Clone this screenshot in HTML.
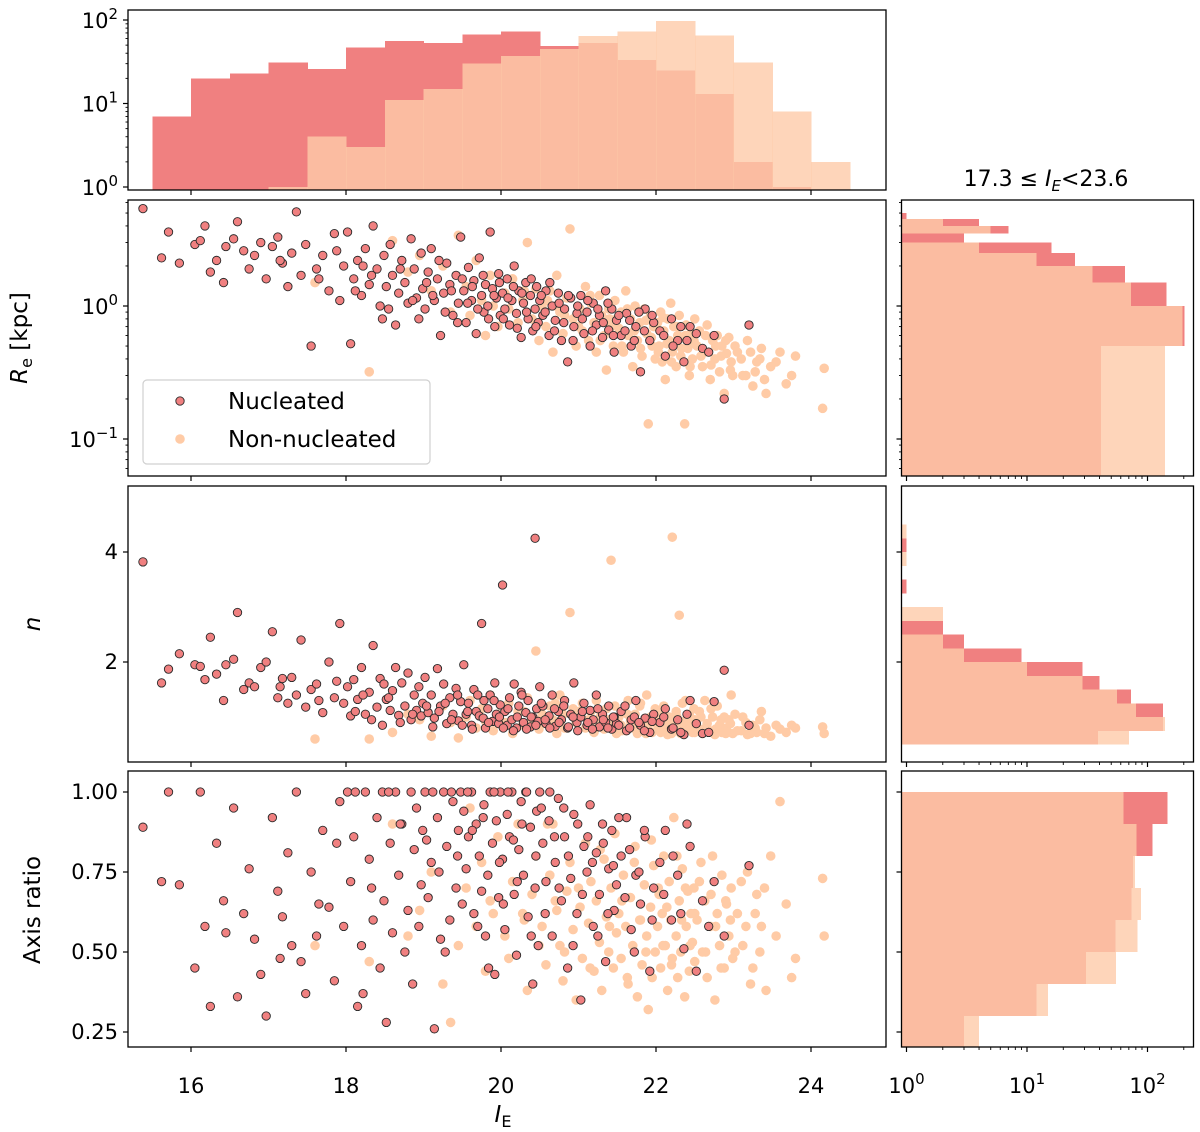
<!DOCTYPE html>
<html><head><meta charset="utf-8">
<style>
html,body{margin:0;padding:0;background:#fff;}
svg{display:block;font-family:"DejaVu Sans","Liberation Sans",sans-serif;}
</style></head>
<body>
<svg id="chart" width="1200" height="1132" viewBox="0 0 1200 1132" xmlns="http://www.w3.org/2000/svg">
<defs>
<clipPath id="cTop"><rect x="128" y="10" width="758" height="180"/></clipPath>
<clipPath id="cRe"><rect x="128" y="200" width="758" height="276"/></clipPath>
<clipPath id="cN"><rect x="128" y="486" width="758" height="276"/></clipPath>
<clipPath id="cQ"><rect x="128" y="771" width="758" height="276"/></clipPath>
<clipPath id="cRRe"><rect x="901.5" y="200" width="292" height="276"/></clipPath>
<clipPath id="cRN"><rect x="901.5" y="486" width="292" height="276"/></clipPath>
<clipPath id="cRQ"><rect x="901.5" y="771" width="292" height="276"/></clipPath>
</defs>
</svg>
<script>
// ---- histogram data ----
const ieEdges=[15.5,16,16.5,17,17.5,18,18.5,19,19.5,20,20.5,21,21.5,22,22.5,23,23.5,24,24.5];
const nucIEcounts=[7,20,23,31,26,47,56,53,67,73,49,53,33,25,13,2,1,0];
const nonIEcounts=[0,0,0,1,4,3,11,15,30,37,45,64,73,97,65,31,8,2];
const reEdges=[0,0.5,1,1.5,2,2.5,3,3.5,4,4.5,5];
const nucReCounts=[41,203,144,65,25,16,3,7,4,1];
const nonReCounts=[140,196,73,35,12,4,0,5,2,0];
const nEdges=[0.5,0.75,1,1.25,1.5,1.75,2,2.25,2.5,2.75,3,3.25,3.5,3.75,4,4.25,4.5];
const nucNCounts=[39,134,134,73,40,29,9,3,2,0,0,1,0,0,1,0];
const nonNCounts=[70,140,80,56,29,10,3,2,0,2,0,0,0,1,0,1];
const qEdges=[0.2,0.3,0.4,0.5,0.6,0.7,0.8,0.9,1.0];
const nucQCounts=[3,12,31,54,74,76,110,146];
const nonQCounts=[4,15,55,83,88,79,81,63];
// ---- scatter data: [I_E, Re, n, axis ratio] ----
const nucleated=[
[15.38,5.4,3.82,0.89],[15.62,2.3,1.62,0.72],[15.71,3.6,1.87,1.0],[15.85,2.1,2.15,0.71],
[16.05,2.9,1.95,0.45],[16.12,3.1,1.92,1.0],[16.18,4.0,1.68,0.58],[16.25,1.8,2.45,0.33],[16.33,2.2,1.78,0.84],[16.42,1.5,1.3,0.66],
[16.55,3.2,2.05,0.95],[16.6,4.3,2.9,0.36],[16.68,2.6,1.5,0.62],[16.75,1.9,1.62,0.76],[16.82,2.4,1.55,0.54],[16.9,3.0,1.9,0.43],[16.97,1.6,2.0,0.3],
[17.05,2.8,2.55,0.92],[17.12,3.3,1.35,0.69],[17.18,2.1,1.7,0.61],[17.25,1.4,1.25,0.81],[17.3,2.5,1.72,0.52],[17.36,5.1,1.4,1.0],[17.42,1.7,2.4,0.47],[17.48,2.9,1.18,0.37],
[17.55,0.5,1.5,0.75],[17.62,1.9,1.6,0.55],[17.7,2.4,1.08,0.88],[17.78,1.3,2.0,0.64],[17.85,3.5,1.35,0.41],[17.92,1.1,2.7,0.97],[17.97,2.0,1.25,0.58],
[18.02,3.6,1.55,1.0],[18.06,0.52,1.02,0.72],[18.1,1.6,1.68,0.86],[18.15,2.2,1.32,0.33],[18.2,1.2,1.9,0.52],[18.25,2.7,1.05,1.0],[18.3,1.45,1.45,0.79],[18.35,4.0,2.3,0.6],[18.4,1.9,1.18,0.92],[18.44,1.0,1.7,0.45],[18.47,0.8,0.85,1.0],[18.49,2.4,1.6,0.66],
[18.52,1.4,1.32,0.28],[18.57,2.9,1.12,0.84],[18.6,1.7,1.48,0.56],[18.64,0.72,1.9,1.0],[18.68,1.25,1.03,0.74],[18.72,2.2,1.62,0.9],[18.76,1.5,1.2,0.5],[18.8,1.05,1.8,0.63],[18.84,3.2,0.95,1.0],[18.88,1.9,1.4,0.82],[18.91,1.15,1.12,0.95],[18.94,0.8,1.55,0.58],[18.97,2.5,1.02,0.71],[18.99,1.35,1.25,0.88],
[19.02,0.95,1.72,1.0],[19.06,1.8,1.08,0.67],[19.1,2.7,1.4,0.78],[19.14,1.1,0.98,0.26],[19.18,1.6,1.88,0.92],[19.22,0.6,1.2,0.54],[19.26,1.25,1.6,1.0],[19.3,2.1,0.88,0.83],[19.34,1.45,1.35,0.6],[19.38,0.85,1.05,0.97],[19.42,1.7,1.52,0.7],[19.45,1.05,0.93,0.88],[19.48,3.3,1.28,1.0],
[19.52,1.3,1.95,0.94],[19.55,0.75,1.05,0.76],[19.58,1.95,1.25,0.86],[19.62,1.1,0.85,1.0],[19.65,1.55,1.5,0.62],[19.68,0.62,1.1,0.9],[19.72,2.3,1.02,0.8],[19.75,1.2,2.7,0.69],[19.78,0.9,1.3,0.96],[19.8,1.45,0.8,0.55],[19.83,1.0,1.15,0.74],[19.86,3.6,1.4,1.0],[19.89,1.35,0.92,0.84],[19.92,0.7,1.62,0.43],[19.94,1.15,1.05,0.91],[19.97,1.75,0.88,0.67],[19.99,0.85,1.22,1.0],
[20.02,1.25,3.4,0.79],[20.05,0.95,1.1,0.57],[20.08,1.6,0.85,0.93],[20.11,0.72,1.35,0.86],[20.14,1.1,0.95,1.0],[20.17,2.0,1.6,0.68],[20.2,0.88,0.8,0.49],[20.23,1.3,1.2,0.82],[20.26,0.58,1.45,0.97],[20.29,1.05,0.9,0.74],[20.32,1.5,1.08,1.0],[20.35,0.8,1.3,0.61],[20.38,1.2,0.82,0.89],[20.41,0.65,1.0,0.4],[20.44,0.95,4.25,0.7],[20.46,1.4,1.15,0.94],[20.48,0.75,0.92,0.52],[20.5,1.1,1.55,1.0],
[20.54,0.85,1.2,0.84],[20.58,1.3,0.88,0.72],[20.62,0.6,1.02,0.91],[20.66,1.0,1.4,0.55],[20.7,0.78,0.83,0.78],[20.74,1.25,1.1,0.98],[20.78,0.55,0.95,0.66],[20.82,0.95,1.3,0.86],[20.86,0.38,0.8,0.45],[20.9,1.15,1.05,0.73],[20.94,0.7,1.62,0.93],[20.98,0.88,0.9,0.62],
[21.03,1.2,1.0,0.35],[21.07,0.62,1.25,0.83],[21.11,0.9,0.85,0.75],[21.15,0.5,1.12,0.96],[21.19,1.05,0.95,0.58],[21.23,0.72,1.4,0.81],[21.27,0.85,0.82,0.68],[21.31,0.58,1.05,0.9],[21.35,1.3,0.9,0.47],[21.39,0.66,1.2,0.76],[21.43,0.95,0.78,0.88],[21.46,0.45,1.0,0.63],[21.49,0.78,0.88,0.71],
[21.55,0.6,1.1,0.8],[21.62,0.88,0.75,0.92],[21.68,0.5,0.95,0.57],[21.74,0.7,1.3,0.74],[21.8,0.32,0.85,0.65],[21.86,0.95,0.98,0.86],[21.92,0.55,0.72,0.44],[21.97,0.75,1.05,0.7],
[22.05,0.65,0.9,0.78],[22.12,0.42,1.15,0.88],[22.2,0.8,0.78,0.6],[22.28,0.55,0.95,0.74],[22.36,0.38,0.68,0.51],[22.44,0.7,1.3,0.83],
[22.6,0.48,0.7,0.66],[22.75,0.6,1.28,0.72],[22.88,0.2,1.85,0.55],[23.2,0.72,0.85,0.77],
[18.12,1.3,1.1,1.0],[18.33,1.7,0.95,0.7],[18.55,0.95,1.35,1.0],[18.7,1.9,0.9,0.9],[18.86,1.1,1.05,0.4],[19.04,1.5,1.2,0.85],[19.12,1.2,0.82,1.0],[19.2,2.2,1.1,0.75],[19.28,0.9,1.25,0.5],[19.36,1.3,0.95,1.0],[19.44,0.75,1.4,0.8],[19.5,1.6,0.85,0.65],[19.57,1.05,1.1,1.0],[19.63,1.4,0.78,0.88],[19.7,0.95,1.4,0.58],[19.77,1.7,0.98,0.92],[19.84,0.8,0.9,0.45],[19.91,1.2,1.3,1.0],[19.98,1.5,1.0,0.78],
[20.03,0.8,0.8,0.65],[20.09,1.15,1.15,1.0],[20.16,1.4,0.75,0.85],[20.21,0.68,1.0,0.72],[20.27,1.25,1.4,0.9],[20.33,0.9,0.78,1.0],[20.39,1.6,1.0,0.55],[20.45,0.7,0.85,0.8],[20.52,1.2,1.25,0.95],[20.57,0.9,0.95,0.62],[20.63,1.5,0.8,1.0],[20.69,0.65,1.15,0.86],[20.75,1.05,0.9,0.7],[20.81,0.75,1.2,0.95],[20.87,1.2,0.82,0.8],[20.93,0.55,1.0,0.52],[20.99,1.0,0.75,0.9],
[21.05,0.8,1.1,0.68],[21.12,1.1,0.9,0.86],[21.18,0.65,0.78,0.78],[21.25,0.95,1.15,0.55],[21.32,0.75,0.95,0.84],[21.38,1.05,0.8,0.62],[21.45,0.6,1.0,0.77],[21.52,0.85,0.85,0.92],[21.6,0.65,1.2,0.67],[21.66,0.78,0.8,0.82],[21.72,0.55,1.0,0.5],[21.78,0.9,0.9,0.75],[21.85,0.65,0.75,0.88],[21.95,0.85,0.92,0.6],
[22.1,0.6,1.0,0.68],[22.22,0.5,0.8,0.8],[22.32,0.7,0.72,0.62],[22.4,0.55,1.05,0.9],[22.52,0.62,0.88,0.44],[22.68,0.45,0.72,0.58],[16.45,2.8,1.95,0.56],[17.15,2.2,1.55,0.48],[17.65,1.6,1.3,0.65],[17.88,2.6,1.65,0.84],[18.22,2.0,1.4,0.37]
];
const nonNucleated=[
[17.6,1.5,0.6,0.52],[18.3,0.32,0.6,0.47],
[18.6,3.1,0.72,0.9],[18.8,1.8,1.05,0.55],[18.95,2.4,0.95,0.63],
[19.1,1.3,0.65,0.75],[19.25,2.0,1.2,0.4],[19.35,0.9,0.9,0.28],[19.45,3.4,0.62,0.52],
[19.55,1.4,1.0,0.7],[19.6,0.85,1.3,0.95],[19.68,2.2,0.8,0.58],[19.75,1.1,1.15,0.78],[19.8,0.6,0.92,0.44],[19.86,1.7,1.4,0.66],[19.9,1.0,0.75,0.62],[19.96,0.7,1.05,0.86],
[20.05,1.25,0.9,0.55],[20.1,0.95,1.25,0.48],[20.15,1.6,0.7,0.72],[20.22,0.75,1.1,0.9],[20.28,1.1,0.85,0.62],[20.34,3.0,1.35,0.38],[20.4,0.8,0.95,0.68],[20.45,1.35,2.2,0.8],[20.49,0.55,0.78,0.52],
[20.53,1.0,1.05,0.58],[20.58,0.7,0.88,0.46],[20.63,1.3,1.2,0.74],[20.67,0.45,0.95,0.9],[20.72,1.7,0.7,0.63],[20.76,0.9,1.4,0.52],[20.8,0.62,1.05,0.41],[20.85,1.15,0.8,0.69],[20.89,3.8,2.9,0.78],[20.93,0.8,1.15,0.57],[20.97,0.5,0.9,0.35],
[21.02,0.95,1.0,0.64],[21.05,0.65,1.25,0.48],[21.09,1.4,0.8,0.84],[21.13,0.55,0.95,0.59],[21.16,1.05,1.1,0.72],[21.2,0.75,0.72,0.44],[21.23,0.45,1.3,0.66],[21.27,1.2,0.9,0.53],[21.3,0.85,1.05,0.38],[21.33,0.6,0.78,0.79],[21.36,0.33,1.15,0.61],[21.39,0.95,0.95,0.5],[21.42,0.7,3.85,0.7],[21.45,0.5,0.85,0.45],[21.47,1.1,1.2,0.87],[21.49,0.8,0.7,0.56],
[21.52,0.68,1.0,0.62],[21.55,0.9,0.85,0.48],[21.58,0.45,1.1,0.74],[21.61,1.3,0.75,0.58],[21.64,0.6,1.3,0.4],[21.67,0.8,0.92,0.67],[21.7,0.35,0.8,0.52],[21.73,1.0,1.05,0.83],[21.76,0.55,0.7,0.36],[21.79,0.75,1.2,0.6],[21.82,0.42,0.9,0.46],[21.85,0.95,0.78,0.71],[21.88,0.62,1.4,0.55],[21.9,0.13,0.85,0.32],[21.93,0.85,1.0,0.64],[21.95,0.5,0.72,0.42],[21.97,0.7,0.95,0.77],[21.99,0.4,1.15,0.5],
[22.02,0.75,0.85,0.58],[22.04,0.5,1.05,0.68],[22.06,0.9,0.72,0.45],[22.08,0.38,0.95,0.62],[22.1,0.65,1.2,0.8],[22.12,0.28,0.8,0.52],[22.15,0.8,0.68,0.38],[22.17,0.55,1.0,0.72],[22.19,1.05,0.88,0.6],[22.21,0.45,4.27,0.48],[22.23,0.7,0.75,0.92],[22.26,0.35,1.1,0.55],[22.28,0.6,0.9,0.42],[22.3,0.85,2.85,0.66],[22.32,0.42,0.7,0.5],[22.34,0.58,1.25,0.76],[22.37,0.13,0.85,0.36],[22.39,0.72,0.95,0.58],[22.41,0.48,0.78,0.69],[22.43,0.3,1.05,0.44],[22.45,0.62,0.88,0.62],[22.47,0.4,0.72,0.53],[22.49,0.55,1.15,0.7],[22.5,0.8,0.95,0.47],
[22.53,0.5,0.82,0.6],[22.56,0.65,1.1,0.72],[22.6,0.35,0.7,0.5],[22.63,0.45,1.3,0.66],[22.66,0.72,0.88,0.42],[22.7,0.28,0.75,0.58],[22.73,0.55,1.0,0.8],[22.76,0.4,0.68,0.35],[22.79,0.6,1.2,0.62],[22.82,0.32,0.85,0.52],[22.85,0.5,0.72,0.74],[22.88,0.22,1.0,0.45],[22.91,0.44,0.8,0.65],[22.94,0.58,0.95,0.55],[22.97,0.38,1.4,0.7],[22.99,0.3,0.7,0.48],
[23.05,0.45,0.75,0.62],[23.12,0.3,1.0,0.52],[23.18,0.55,0.68,0.75],[23.25,0.25,0.85,0.45],[23.3,0.38,0.72,0.68],[23.36,0.48,1.1,0.58],[23.42,0.22,0.8,0.38],[23.48,0.35,0.65,0.8],
[23.6,0.45,0.78,0.97],[23.75,0.3,0.85,0.42],[24.15,0.17,0.82,0.73],[24.17,0.34,0.7,0.55],
[20.6,1.1,0.95,0.9],[20.82,0.85,0.8,0.5],[21.0,0.7,1.1,0.7],[21.15,1.2,0.85,0.45],[21.28,0.55,1.0,0.82],[21.4,0.8,0.9,0.58],[21.56,0.5,0.75,0.66],[21.63,0.95,1.05,0.42],[21.72,0.65,0.85,0.78],[21.8,0.48,1.25,0.6],[21.87,0.78,0.7,0.5],[21.94,0.58,1.0,0.85],[22.03,0.45,0.8,0.7],[22.09,0.82,1.1,0.52],[22.14,0.52,0.9,0.64],[22.2,0.38,0.7,0.46],[22.27,0.7,1.0,0.8],[22.33,0.48,0.82,0.6],[22.38,0.6,1.3,0.7],[22.44,0.35,0.9,0.52],[22.5,0.52,0.72,0.62],[22.58,0.42,1.0,0.78],[22.64,0.6,0.8,0.5],[22.71,0.36,1.15,0.68],[22.77,0.5,0.78,0.58],[22.84,0.42,0.95,0.45],[22.9,0.55,0.7,0.66],[22.96,0.33,0.88,0.6],[23.02,0.5,1.05,0.5],[23.1,0.4,0.75,0.72],[23.16,0.3,0.9,0.58],[23.22,0.45,0.7,0.4],[23.28,0.32,0.8,0.62],[23.34,0.4,0.95,0.5],[23.4,0.28,0.7,0.7],[23.55,0.38,0.85,0.55],[23.68,0.26,0.72,0.65],[23.8,0.42,0.8,0.48],[20.3,1.3,1.1,0.6],[20.7,1.0,1.25,0.66]
];
const xTickLabels=["16","18","20","22","24"];
const qTickLabels=["0.25","0.50","0.75","1.00"];
const nTickLabels=["2","4"];

const NS="http://www.w3.org/2000/svg";
const svg=document.getElementById('chart');
function mk(tag,attrs,parent){const e=document.createElementNS(NS,tag);for(const k in attrs)e.setAttribute(k,attrs[k]);(parent||svg).appendChild(e);return e;}
function grp(clip){const g=document.createElementNS(NS,'g');if(clip)g.setAttribute('clip-path','url(#'+clip+')');svg.appendChild(g);return g;}

// scales
const xIE=v=>191+(v-16)*77.5;
const yTop=c=>187-Math.log10(c)*83.5;
const yRe=v=>306-Math.log10(v)*133;
const yN=v=>772-v*55;
const yQ=v=>792+(1-v)*320;
const xCnt=c=>906.5+Math.log10(c)*120.5;

const RED="#f08080", PEACH="rgb(254,202,169)", DOT_PEACH="#ffcba6";

// top histogram
const gTop=grp('cTop');


[[nucIEcounts,RED,1,'nucleated'],[nonIEcounts,PEACH,0.8,'non-nucleated']].forEach(([arr,col,op,nm])=>{
  arr.forEach((c,i)=>{ if(c<=0) return;
    const x0=xIE(ieEdges[i]),x1=xIE(ieEdges[i+1]);
    const r=mk('rect',{x:x0,y:yTop(c),width:x1-x0+0.5,height:Math.max(0,192-yTop(c)),fill:col,'fill-opacity':op,'shape-rendering':'crispEdges'},gTop);
    
    
  });
});

// right histograms
function hHist(clip,edges,arr,yf,col,op,nm,lowClamp){
  const g=grp(clip);
  arr.forEach((c,i)=>{ if(c<=0) return;
    const lo=Math.max(edges[i],lowClamp), hi=edges[i+1];
    const y0=yf(hi), y1=yf(lo);
    const r=mk('rect',{x:895,y:y0,width:xCnt(c)-895,height:y1-y0,fill:col,'fill-opacity':op,'shape-rendering':'crispEdges'},g);
    
    
  });
}
hHist('cRRe',reEdges,nucReCounts,yRe,RED,1,'re-hist-bar-nucleated',0.01);
hHist('cRRe',reEdges,nonReCounts,yRe,PEACH,0.8,'re-hist-bar-non-nucleated',0.01);
hHist('cRN',nEdges,nucNCounts,yN,RED,1,'n-hist-bar-nucleated',-1);
hHist('cRN',nEdges,nonNCounts,yN,PEACH,0.8,'n-hist-bar-non-nucleated',-1);
hHist('cRQ',qEdges,nucQCounts,yQ,RED,1,'q-hist-bar-nucleated',-1);
hHist('cRQ',qEdges,nonQCounts,yQ,PEACH,0.8,'q-hist-bar-non-nucleated',-1);

// scatter panels
[['cRe',1,yRe,'re'],['cN',2,yN,'n'],['cQ',3,yQ,'q']].forEach(([clip,idx,yf,nm])=>{
  const g=grp(clip);
  nonNucleated.forEach(p=>{
    const c=mk('circle',{cx:xIE(p[0]),cy:yf(p[idx]),r:4.8,fill:DOT_PEACH},g);
    
    
  });
  nucleated.forEach(p=>{
    const c=mk('circle',{cx:xIE(p[0]),cy:yf(p[idx]),r:4.2,fill:RED,stroke:'#2a2a2a','stroke-width':0.9},g);
    
    
  });
});

// frames
const frames=[[128,10,758,180,'ie-hist-frame'],[128,200,758,276,'re-panel-frame'],[128,486,758,276,'n-panel-frame'],[128,771,758,276,'q-panel-frame'],
[901.5,200,292,276,'re-hist-frame'],[901.5,486,292,276,'n-hist-frame'],[901.5,771,292,276,'q-hist-frame']];
frames.forEach(f=>{const r=mk('rect',{x:f[0],y:f[1],width:f[2],height:f[3],fill:'none',stroke:'#000','stroke-width':1.3});
});

function tick(x1,y1,x2,y2,w){const l=mk('line',{x1:x1,y1:y1,x2:x2,y2:y2,stroke:'#000','stroke-width':w||1.2});}
function txt(x,y,s,anchor,size,nm,extra){const t=mk('text',Object.assign({x:x,y:y,'text-anchor':anchor||'middle','font-size':size||21,fill:'#000'},extra||{}));t.textContent=s;return t;}
function pow(x,y,exp,anchor,nm){const t=mk('text',{x:x,y:y,'text-anchor':anchor,'font-size':21,fill:'#000'});
 t.appendChild(document.createTextNode('10'));const s=document.createElementNS(NS,'tspan');s.setAttribute('dy','-9');s.setAttribute('font-size','15');s.textContent=exp;t.appendChild(s);return t;}

// x ticks on left panels
[190,476,762,1047].forEach(yb=>{
  xTickLabels.forEach(l=>{const x=xIE(+l);tick(x,yb,x,yb+5);});
});
xTickLabels.forEach(l=>txt(xIE(+l),1093,l,'middle',21,'x-tick-label'));
// top hist y ticks (log)
[0,1,2].forEach(e=>{const y=yTop(Math.pow(10,e));tick(123,y,128,y);pow(118,y+8,String(e),'end','top-y-tick-label');
 if(e<2)for(let m=2;m<10;m++){const yy=yTop(m*Math.pow(10,e));if(yy>=10)tick(125.5,yy,128,yy,0.9);}});
// Re y ticks
[0,-1].forEach(e=>{const y=yRe(Math.pow(10,e));tick(123,y,128,y);tick(896.5,y,901.5,y);pow(118,y+8,e===0?'0':'−1','end','re-y-tick-label');});
[-2,-1,0].forEach(e=>{for(let m=2;m<10;m++){const yy=yRe(m*Math.pow(10,e));if(yy>=200&&yy<=476){tick(125.5,yy,128,yy,0.9);tick(899,yy,901.5,yy,0.9);}}});
// n y ticks
nTickLabels.forEach(l=>{const y=yN(+l);tick(123,y,128,y);tick(896.5,y,901.5,y);txt(118,y+7,l,'end',21,'n-y-tick-label');});
// q y ticks
qTickLabels.forEach(l=>{const y=yQ(+l);tick(123,y,128,y);tick(896.5,y,901.5,y);txt(118,y+7,l,'end',21,'q-y-tick-label');});
// right x ticks (log counts)
[476,762,1047].forEach(yb=>{
  [0,1,2].forEach(e=>{const x=xCnt(Math.pow(10,e));tick(x,yb,x,yb+5);
    for(let m=2;m<10;m++){const xx=xCnt(m*Math.pow(10,e));if(xx<1193)tick(xx,yb,xx,yb+3,0.9);}});
});
[0,1,2].forEach(e=>pow(xCnt(Math.pow(10,e)),1093,String(e),'middle','count-x-tick-label'));

// axis labels
(function(){const t=mk('text',{x:0,y:0,'text-anchor':'middle','font-size':23,transform:'translate(27,338) rotate(-90)'});

const a=document.createElementNS(NS,'tspan');a.setAttribute('font-style','italic');a.textContent='R';t.appendChild(a);
const b=document.createElementNS(NS,'tspan');b.setAttribute('font-size','16');b.setAttribute('dy','5');b.textContent='e';t.appendChild(b);
const c=document.createElementNS(NS,'tspan');c.setAttribute('dy','-5');c.textContent=' [kpc]';t.appendChild(c);})();
txt(0,0,'n','middle',23,'n-axis-title',{transform:'translate(40,624) rotate(-90)','font-style':'italic'});
txt(0,0,'Axis ratio','middle',23,'q-axis-title',{transform:'translate(40,910) rotate(-90)'});
(function(){const t=mk('text',{x:503,y:1122,'text-anchor':'middle','font-size':23});
const a=document.createElementNS(NS,'tspan');a.setAttribute('font-style','italic');a.textContent='I';t.appendChild(a);
const b=document.createElementNS(NS,'tspan');b.setAttribute('font-size','16');b.setAttribute('dy','5');b.textContent='E';t.appendChild(b);})();
(function(){const t=mk('text',{x:1046,y:186,'text-anchor':'middle','font-size':22});
t.appendChild(document.createTextNode('17.3 ≤ '));
const a=document.createElementNS(NS,'tspan');a.setAttribute('font-style','italic');a.textContent='I';t.appendChild(a);
const b=document.createElementNS(NS,'tspan');b.setAttribute('font-style','italic');b.setAttribute('font-size','15');b.setAttribute('dy','5');b.textContent='E';t.appendChild(b);
const c=document.createElementNS(NS,'tspan');c.setAttribute('dy','-5');c.textContent='<23.6';t.appendChild(c);})();

// legend
const lg=grp(null);


const box=mk('rect',{x:143,y:380,width:287,height:84,rx:4,fill:'#fff','fill-opacity':0.85,stroke:'#d0d0d0','stroke-width':1.2},lg);

const m1=mk('circle',{cx:180,cy:401,r:4.2,fill:RED,stroke:'#2a2a2a','stroke-width':0.9},lg);

const m2=mk('circle',{cx:180,cy:439,r:4.8,fill:DOT_PEACH},lg);

txt(228,409,'Nucleated','start',23,'legend-entry-nucleated');
txt(228,447,'Non-nucleated','start',23,'legend-entry-non-nucleated');
</script>
</body></html>
